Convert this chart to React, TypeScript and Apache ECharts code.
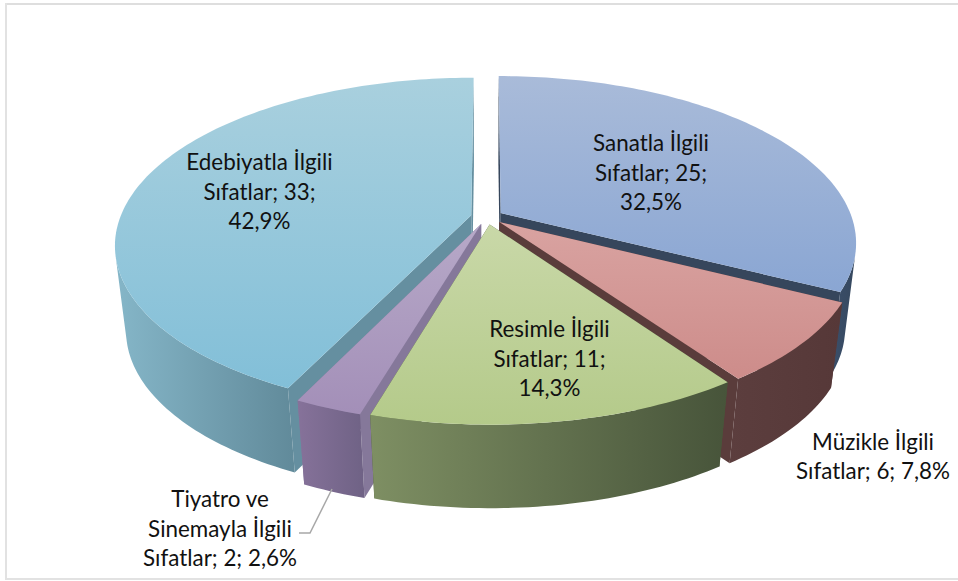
import React, { useEffect, useRef } from "react";
import * as echarts from "echarts";

const names = ["Sanatla İlgili Sıfatlar", "Müzikle İlgili Sıfatlar", "Resimle İlgili Sıfatlar", "Tiyatro ve Sinemayla İlgili Sıfatlar", "Edebiyatla İlgili Sıfatlar"];
const values = [25, 6, 11, 2, 33];
const labelLines = [
  ["Sanatla İlgili", "Sıfatlar; {v};", "{p}"],
  ["Müzikle İlgili", "Sıfatlar; {v}; {p}"],
  ["Resimle İlgili", "Sıfatlar; {v};", "{p}"],
  ["Tiyatro ve", "Sinemayla İlgili", "Sıfatlar; {v}; {p}"],
  ["Edebiyatla İlgili", "Sıfatlar; {v};", "{p}"],
];
const labelCenters = [[651, 172], [873, 456], [549.5, 358], [220, 528], [259.5, 191]];
const topColors = [["#a9bbd9", "#8aa6d3"], ["#d9a3a1", "#cd8c8a"], ["#c9d8a8", "#b4ca8a"], ["#b7a9c8", "#a38fb8"], ["#a9d0de", "#82bfd8"]];
const wallColors = [["#3b4f6b", "#36485f"], ["#5c3e3e", "#563838"], ["#7e8f63", "#47543a"], ["#86729a", "#6f6285"], ["#85b6c8", "#618a9a"]];
const cutColors = ["#36465c", "#5a3c3b", "#4a5738", "#85789a", "#658fa0"];
const drawOrder = [0, 4, 1, 3, 2];

const CX = 487, CY = 217, RX = 351, RY_TOP = 162.3, RY_BOTTOM = 150.8, PERSP = 0.175, CONV = 0.03, DEPTH = 89, EXPLODE = 0.046;
const total = values.reduce((a, b) => a + b, 0);

function project(u: number, v: number, z: number) {
  const d = 1 + PERSP * v + CONV * z;
  const ry = RY_TOP * (1 - z) + RY_BOTTOM * z;
  return [CX + (RX * u) / d, CY + (-ry * v + DEPTH * z) / d];
}

function sliceGeometry(index: number) {
  let before = 0;
  for (let i = 0; i < index; i++) before += values[i];
  const a0 = (before / total) * Math.PI * 2;
  const a1 = ((before + values[index]) / total) * Math.PI * 2;
  const m = (a0 + a1) / 2;
  const ou = EXPLODE * Math.sin(m), ov = EXPLODE * Math.cos(m);
  const pt = (a: number, z: number) => project(Math.sin(a) + ou, Math.cos(a) + ov, z);
  const arc = (z: number) => {
    const n = Math.max(4, Math.ceil((a1 - a0) / 0.02));
    const pts: number[][] = [];
    for (let i = 0; i <= n; i++) pts.push(pt(a0 + ((a1 - a0) * i) / n, z));
    return pts;
  };
  return { a0, a1, apex: (z: number) => project(ou, ov, z), pt, arc };
}

// Only the stretch of the rim that faces the viewer becomes wall, so its
// outline follows the straight tangent between the top and bottom rims.
function visibleWall(topArc: number[][], botArc: number[][]) {
  let first = -1, last = -1;
  for (let i = 0; i < topArc.length - 1; i++) {
    const dx = topArc[i + 1][0] - topArc[i][0], dy = topArc[i + 1][1] - topArc[i][1];
    const hx = botArc[i][0] - topArc[i][0], hy = botArc[i][1] - topArc[i][1];
    if (dx * hy - dy * hx < 0) {
      if (first < 0) first = i;
      last = i + 1;
    }
  }
  if (first < 0) return [];
  return [...topArc.slice(first, last + 1), ...botArc.slice(first, last + 1).reverse()];
}

function renderSlice(_: any, api: any) {
  const i = api.value(0);
  const g = sliceGeometry(i);
  const grad = (c: string[], vertical: boolean) =>
    new echarts.graphic.LinearGradient(0, 0, vertical ? 0 : 1, vertical ? 1 : 0, [
      { offset: 0, color: c[0] },
      { offset: 1, color: c[1] },
    ]);
  const poly = (points: number[][], fill: any) => ({
    type: "polygon",
    shape: { points },
    style: { fill, stroke: "none" },
    silent: true,
  });
  const topArc = g.arc(0), botArc = g.arc(1);
  return {
    type: "group",
    children: [
      poly([g.apex(0), g.pt(g.a0, 0), g.pt(g.a0, 1), g.apex(1)], cutColors[i]),
      poly([g.apex(0), g.pt(g.a1, 0), g.pt(g.a1, 1), g.apex(1)], cutColors[i]),
      poly(visibleWall(topArc, botArc), grad(wallColors[i], false)),
      poly([g.apex(0), ...topArc], grad(topColors[i], true)),
    ],
  };
}

function labelText(i: number) {
  const pct = ((values[i] / total) * 100).toFixed(1).replace(".", ",") + "%";
  return labelLines[i].map((l) => l.replace("{v}", String(values[i])).replace("{p}", pct)).join("\n");
}

function renderLabel(_: any, api: any) {
  const i = api.value(0);
  return {
    type: "text",
    silent: true,
    style: {
      text: labelText(i),
      x: labelCenters[i][0],
      y: labelCenters[i][1],
      align: "center",
      verticalAlign: "middle",
      font: "22.4px Lato",
      lineHeight: 29.5,
      fill: "#111111",
    },
  };
}

export default function App() {
  const ref = useRef<HTMLDivElement>(null);
  useEffect(() => {
    document.body.style.margin = "0";
    const chart = echarts.init(ref.current!, undefined, { renderer: "svg" });
    chart.setOption({
      animation: false,
      backgroundColor: "#ffffff",
      graphic: [
        { type: "rect", shape: { x: 5, y: 3, width: 953, height: 2 }, style: { fill: "#dedede" }, silent: true },
        { type: "rect", shape: { x: 5, y: 3, width: 2, height: 576 }, style: { fill: "#e2e2e2" }, silent: true },
        { type: "rect", shape: { x: 5, y: 578, width: 953, height: 2 }, style: { fill: "#e2e2e2" }, silent: true },
        {
          type: "polyline",
          z: 20,
          shape: { points: [[299, 533], [310, 533], [332, 489]] },
          style: { stroke: "#a8a8a8", lineWidth: 1.5, fill: "none" },
          silent: true,
        },
      ],
      series: [
        { type: "custom", coordinateSystem: "none", renderItem: renderSlice, data: drawOrder.map((i) => [i, values[i], names[i]]), silent: true, z: 2, clip: false },
        { type: "custom", coordinateSystem: "none", renderItem: renderLabel, data: values.map((v, i) => [i, v, names[i]]), silent: true, z: 3, clip: false },
      ],
    });
    return () => chart.dispose();
  }, []);
  return <div ref={ref} style={{ width: 958, height: 581 }} />;
}
